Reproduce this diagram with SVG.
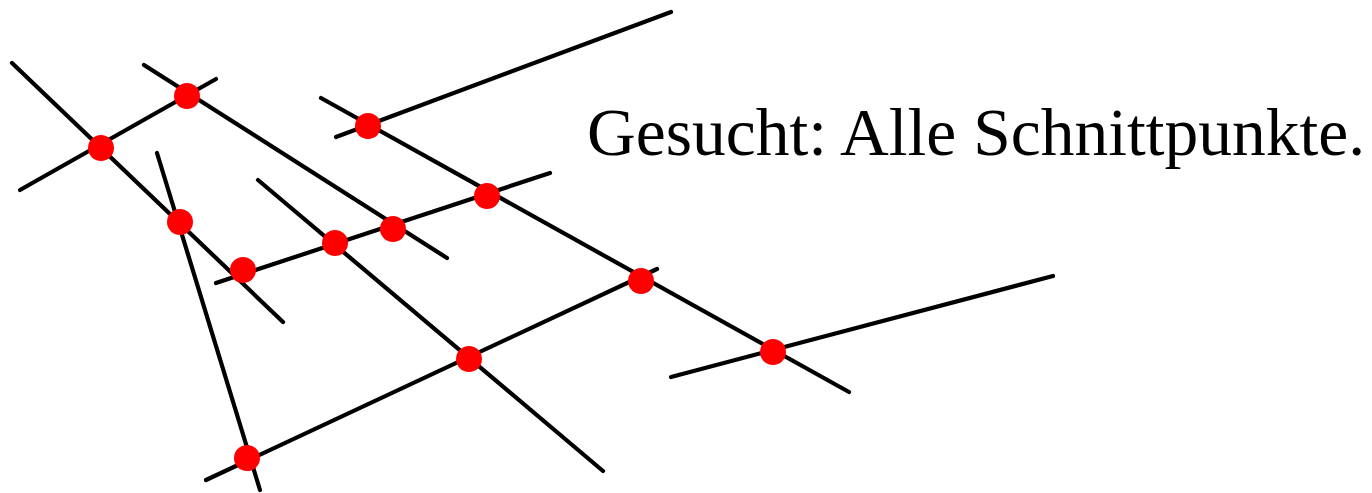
<svg xmlns="http://www.w3.org/2000/svg" width="1372" height="493" viewBox="0 0 1372 493">
<style>
.seg{stroke:#000;stroke-width:4.2;stroke-linecap:round;fill:none}
.pt{fill:#ff0000}
.lbl{font-family:"Liberation Serif","Times New Roman",serif;font-size:67.5px;fill:#000}
</style>
<rect width="1372" height="493" fill="#fff"/>
<g id="connectors">
<line class="seg" x1="12" y1="63" x2="283" y2="322"/>
<line class="seg" x1="20" y1="190" x2="216" y2="79"/>
<line class="seg" x1="144" y1="65" x2="447" y2="258"/>
<line class="seg" x1="157" y1="153" x2="260" y2="490"/>
<line class="seg" x1="216" y1="283" x2="550" y2="173"/>
<line class="seg" x1="258" y1="180" x2="603" y2="471"/>
<line class="seg" x1="321" y1="98" x2="849" y2="392"/>
<line class="seg" x1="336" y1="137" x2="671" y2="12"/>
<line class="seg" x1="206" y1="480" x2="657" y2="269"/>
<line class="seg" x1="671" y1="377" x2="1053" y2="276"/>
</g>
<g id="points">
<circle class="pt" cx="101" cy="148" r="13"/>
<circle class="pt" cx="187" cy="96" r="13"/>
<circle class="pt" cx="180" cy="222" r="13"/>
<circle class="pt" cx="243" cy="270" r="13"/>
<circle class="pt" cx="335" cy="243" r="13"/>
<circle class="pt" cx="393" cy="229" r="13"/>
<circle class="pt" cx="368" cy="126" r="13"/>
<circle class="pt" cx="487" cy="196" r="13"/>
<circle class="pt" cx="641" cy="281" r="13"/>
<circle class="pt" cx="773" cy="352" r="13"/>
<circle class="pt" cx="469" cy="359" r="13"/>
<circle class="pt" cx="247" cy="458" r="13"/>
</g>
<g id="label">
<text class="lbl" x="587" y="155">Gesucht: Alle Schnittpunkte.</text>
</g>
</svg>
